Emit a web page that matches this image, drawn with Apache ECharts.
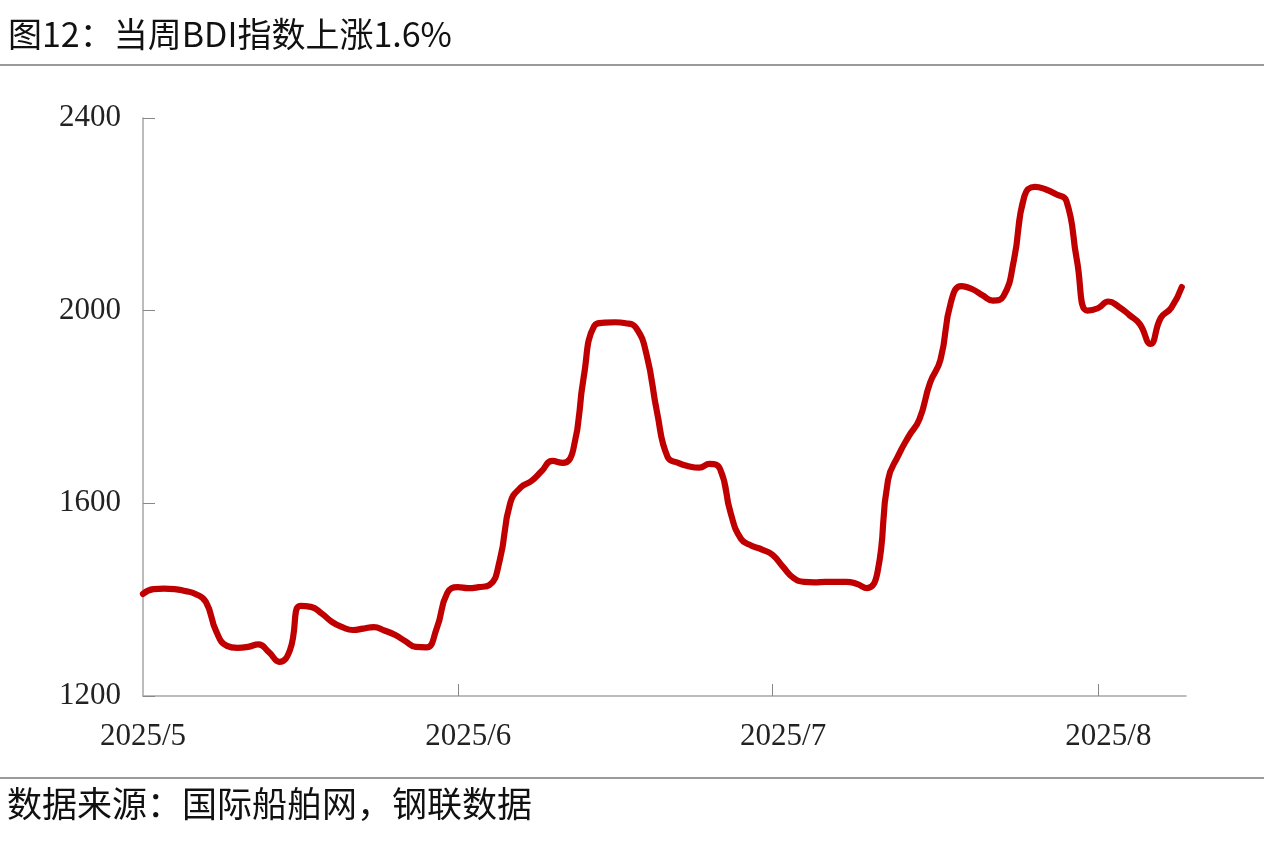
<!DOCTYPE html>
<html><head><meta charset="utf-8">
<script src="https://cdn.jsdelivr.net/npm/echarts@6/dist/echarts.min.js"></script>
<style>html,body{margin:0;padding:0;background:#fff}#c{width:1264px;height:843px}</style>
</head><body><div id="c"></div>
<script>
const titleText = '图12：当周BDI指数上涨1.6%';
const sourceText = '数据来源：国际船舶网，钢联数据';
// daily readings starting 2025-05-01
const startDate = [2025, 4, 1];
const bdiValues = [
  1412, 1422, 1423, 1422, 1418, 1412, 1395, 1333, 1304, 1300,
  1302, 1307, 1291, 1271, 1295, 1387, 1385, 1372, 1354, 1343,
  1337, 1340, 1343, 1336, 1327, 1314, 1302, 1301, 1341, 1414,
  1426, 1424, 1426, 1430, 1482, 1601, 1633, 1646, 1667, 1688,
  1684, 1711, 1862, 1968, 1975, 1976, 1974, 1964, 1908, 1788,
  1696, 1684, 1677, 1674, 1682, 1671, 1580, 1526, 1512, 1504,
  1493, 1468, 1445, 1437, 1436, 1437, 1437, 1437, 1433, 1424,
  1457, 1648, 1700, 1740, 1775, 1850, 1898, 2018, 2051, 2045,
  2032, 2021, 2030, 2105, 2238, 2257, 2252, 2242, 2228, 2105,
  2000, 2005, 2019, 2008, 1991, 1972, 1931, 1985, 2006, 2049
];
const monthLabelDates = [[2025, 4, 1], [2025, 5, 1], [2025, 6, 1], [2025, 7, 1]];
const monthTickDates = [[2025, 4, 31], [2025, 5, 30], [2025, 6, 31]];
const yMin = 1200, yMax = 2400, yStep = 400;

const toTs = (a) => new Date(a[0], a[1], a[2]).getTime();
const DAY = 86400000;
const t0 = toTs(startDate);
const seriesData = bdiValues.map((v, i) => [new Date(startDate[0], startDate[1], startDate[2] + i).getTime(), v]);
const xMax = seriesData[seriesData.length - 1][0] + 0.4 * DAY;

const chart = echarts.init(document.getElementById('c'));
const axisColor = '#a6a6a6';
const serif = '"Liberation Serif","Times New Roman",serif';
chart.setOption({
  backgroundColor: '#ffffff',
  animation: false,
  grid: { left: 143, right: 78, top: 118, bottom: 147, containLabel: false },
  xAxis: {
    type: 'value',
    min: t0,
    max: xMax,
    splitLine: { show: false },
    axisLine: { show: true, lineStyle: { color: axisColor, width: 1.5 } },
    axisTick: { show: true, inside: true, length: 12, lineStyle: { color: '#888', width: 1 },
      customValues: monthTickDates.map(toTs) },
    axisLabel: {
      customValues: monthLabelDates.map(toTs),
      showMinLabel: true, showMaxLabel: true, hideOverlap: false,
      margin: 25,
      color: '#222', fontSize: 31, fontFamily: serif,
      formatter: (val) => { const d = new Date(val); return d.getFullYear() + '/' + (d.getMonth() + 1); }
    }
  },
  yAxis: {
    type: 'value',
    min: yMin, max: yMax, interval: yStep,
    splitLine: { show: false },
    axisLine: { show: true, lineStyle: { color: axisColor, width: 1.5 } },
    axisTick: { show: true, inside: true, length: 12, lineStyle: { color: '#888', width: 1 } },
    axisLabel: { margin: 22, color: '#222', fontSize: 31, fontFamily: serif, formatter: (v) => String(v) }
  },
  series: [{
    type: 'line',
    data: seriesData,
    showSymbol: false,
    smooth: 0.5,
    lineStyle: { color: '#C00000', width: 6.2, cap: 'round', join: 'round' },
    itemStyle: { color: '#C00000' }
  }],
  graphic: [
    { type: 'text', left: 8, top: 17, style: { text: titleText, fontSize: 34, fontFamily: '"Noto Sans CJK SC",sans-serif', fill: '#111' } },
    { type: 'line', shape: { x1: 0, y1: 65, x2: 1264, y2: 65 }, style: { stroke: '#9a9a9a', lineWidth: 2 } },
    { type: 'line', shape: { x1: 0, y1: 778, x2: 1264, y2: 778 }, style: { stroke: '#9a9a9a', lineWidth: 2 } },
    { type: 'text', left: 7, top: 786, style: { text: sourceText, fontSize: 35, fontFamily: '"Noto Sans CJK SC",sans-serif', fill: '#111' } }
  ]
});
</script></body></html>
